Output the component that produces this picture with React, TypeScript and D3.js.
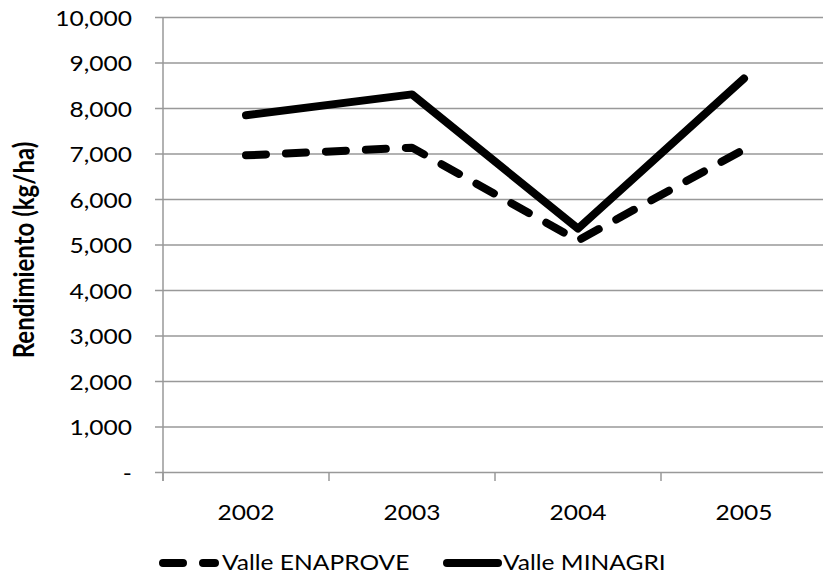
import React from "react";
import * as d3 from "d3";

const years = ["2002", "2003", "2004", "2005"];
const enaprove = [6970, 7140, 5100, 7100];
const minagri = [7850, 8310, 5360, 8660];
const yTicks = [0, 1000, 2000, 3000, 4000, 5000, 6000, 7000, 8000, 9000, 10000];
const seriesNames = ["Valle ENAPROVE", "Valle MINAGRI"];
const yTitle = "Rendimiento (kg/ha)";

const W = 823;
const H = 575;
const FONT = "Lato, 'Open Sans', sans-serif";
const SX = 1.17;

function SText(props: {
  x: number;
  y: number;
  anchor?: "start" | "middle" | "end";
  size: number;
  weight?: string;
  children: React.ReactNode;
  dy?: string;
}) {
  return (
    <g transform={`translate(${props.x},${props.y}) scale(${SX},1)`}>
      <text
        x={0}
        y={0}
        dy={props.dy}
        textAnchor={props.anchor || "start"}
        fontFamily={FONT}
        fontSize={props.size}
        fontWeight={props.weight}
        fill="#000"
      >
        {props.children}
      </text>
    </g>
  );
}

export default function App() {
  const x = d3.scaleBand<string>().domain(years).range([163, 163 + 4 * 166]);
  const y = d3.scaleLinear().domain([0, 10000]).range([472.5, 17.5]);
  const cx = (d: string) => (x(d) as number) + x.bandwidth() / 2;
  const line = d3
    .line<number>()
    .x((_, i) => cx(years[i]))
    .y((v) => y(v));
  const fmt = (v: number) => (v === 0 ? "-" : d3.format(",")(v));
  const grid = "#999";
  const boundaries = years.map((d) => x(d) as number).concat([(x(years[3]) as number) + x.bandwidth()]);

  return (
    <svg width={W} height={H} style={{ position: "absolute", left: 0, top: 0, background: "#fff" }}>
      {yTicks.map((t) => (
        <g key={t}>
          <line x1={155} x2={W} y1={y(t)} y2={y(t)} stroke={grid} strokeWidth={1.5} />
          <SText x={132} y={y(t) + 1} dy="0.35em" anchor="end" size={21}>
            {fmt(t)}
          </SText>
        </g>
      ))}
      <line x1={163} x2={163} y1={17.5} y2={481} stroke={grid} strokeWidth={1.5} />
      {boundaries.map((b, i) => (
        <line key={i} x1={b} x2={b} y1={472.5} y2={481} stroke={grid} strokeWidth={1.5} />
      ))}
      {years.map((d) => (
        <SText key={d} x={cx(d)} y={520} anchor="middle" size={21}>
          {d}
        </SText>
      ))}
      <g transform={`translate(34, 250) rotate(-90) scale(1,${SX})`}>
        <text x={0} y={0} textAnchor="middle" fontFamily={FONT} fontSize={24} fontWeight="bold" fill="#000">
          {yTitle}
        </text>
      </g>
      <path
        d={line(enaprove) || ""}
        fill="none"
        stroke="#000"
        strokeWidth={8}
        strokeDasharray="20 20"
        strokeLinecap="round"
        strokeLinejoin="round"
      />
      <path
        d={line(minagri) || ""}
        fill="none"
        stroke="#000"
        strokeWidth={8}
        strokeLinecap="round"
        strokeLinejoin="round"
      />
      <g>
        <line x1={163} x2={215} y1={563} y2={563} stroke="#000" strokeWidth={8} strokeDasharray="20 20" strokeLinecap="round" />
        <SText x={222} y={563} dy="0.35em" size={21}>
          {seriesNames[0]}
        </SText>
        <line x1={447} x2={498} y1={563} y2={563} stroke="#000" strokeWidth={8} strokeLinecap="round" />
        <SText x={503} y={563} dy="0.35em" size={21}>
          {seriesNames[1]}
        </SText>
      </g>
    </svg>
  );
}
